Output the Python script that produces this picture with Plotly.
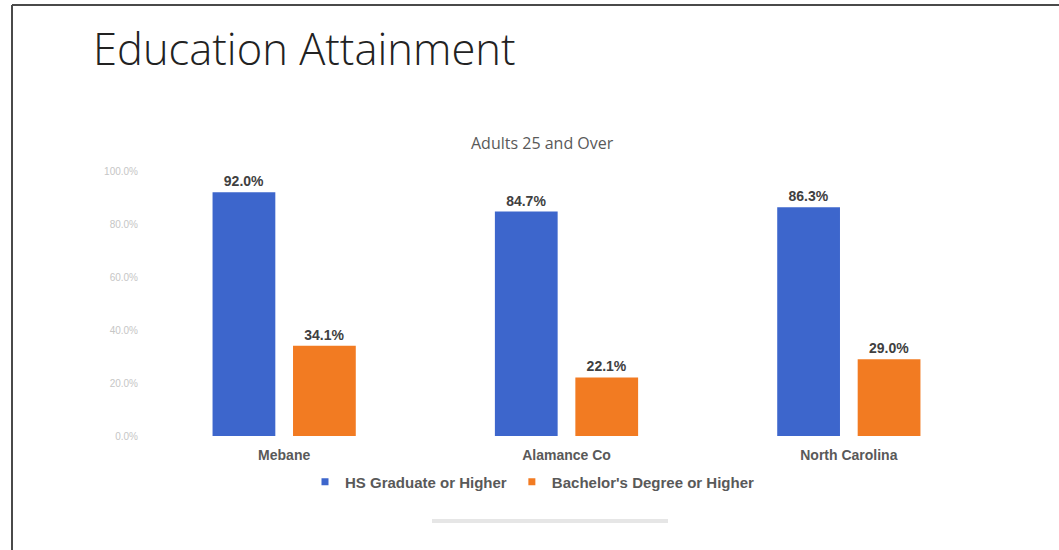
import plotly.graph_objects as go

categories = ["Mebane", "Alamance Co", "North Carolina"]
hs_graduate = [0.920, 0.847, 0.863]
bachelors = [0.341, 0.221, 0.290]
y_ticks = [0.0, 0.2, 0.4, 0.6, 0.8, 1.0]
series_names = ["HS Graduate or Higher", "Bachelor's Degree or Higher"]

W, H = 1059, 550
L, R, T, B = 143, 69, 171, 114  # plot-area margins in pixels
plot_w = W - L - R
plot_h = H - T - B

BLUE = "#3d66cc"
ORANGE = "#f27b22"
BOLD_GRAY = dict(family="Liberation Sans, Arial", color="#595959", weight="bold")
label_font = dict(family="Liberation Sans, Arial", size=14, color="#404040", weight="bold")


def px(pixel_x):
    """Convert a page pixel column to paper x."""
    return (pixel_x - L) / plot_w


def py(pixel_y):
    """Convert a page pixel row to paper y."""
    return (H - B - pixel_y) / plot_h


fig = go.Figure()
for name, values, color in [(series_names[0], hs_graduate, BLUE),
                            (series_names[1], bachelors, ORANGE)]:
    fig.add_trace(go.Bar(
        name=name, x=categories, y=values, showlegend=False,
        marker=dict(color=color, line=dict(width=0)),
        text=[f"{v:.1%}" for v in values], textposition="outside",
        textfont=label_font, cliponaxis=False,
    ))

# small square legend keys
for name, color in [(series_names[0], BLUE), (series_names[1], ORANGE)]:
    fig.add_trace(go.Scatter(
        name=name, x=[None], y=[None], mode="markers",
        marker=dict(symbol="square", size=7, color=color),
    ))

fig.update_layout(
    width=W, height=H,
    margin=dict(l=L, r=R, t=T, b=B, pad=0),
    paper_bgcolor="white", plot_bgcolor="white",
    barmode="group", bargap=0.43, bargroupgap=0.22,
    title=dict(
        text="Education Attainment", x=93 / W, xanchor="left",
        y=1 - 50 / H, yanchor="middle", xref="container", yref="container",
        font=dict(family="Open Sans", size=43.5, color="#222222", weight=300),
    ),
    xaxis=dict(
        showline=False, showgrid=False, ticks="", zeroline=False,
        ticklabelstandoff=9,
        tickfont=dict(size=14, **BOLD_GRAY),
    ),
    yaxis=dict(
        range=[0, 1.0], tickvals=y_ticks, tickformat=".1%",
        showgrid=False, zeroline=False, showline=False, ticks="",
        ticklabelstandoff=4,
        tickfont=dict(family="Liberation Sans, Arial", size=10, color="#c6c6c6"),
    ),
    legend=dict(
        orientation="h", x=px(305), xanchor="left",
        y=py(482), yanchor="middle", traceorder="normal",
        font=dict(size=15, **BOLD_GRAY),
        itemwidth=30, bgcolor="rgba(0,0,0,0)",
    ),
    showlegend=True,
    annotations=[dict(
        text="Adults 25 and Over", xref="paper", yref="paper",
        x=px(542), y=py(143), xanchor="center", yanchor="middle",
        showarrow=False,
        font=dict(family="Open Sans", size=16, color="#595959"),
    )],
    shapes=[
        # frame along the top and left edges
        dict(type="line", xref="paper", yref="paper", x0=px(12), x1=px(W),
             y0=py(5), y1=py(5), line=dict(color="#4a4a4a", width=2)),
        dict(type="line", xref="paper", yref="paper", x0=px(12), x1=px(12),
             y0=py(5), y1=py(H), line=dict(color="#4a4a4a", width=2)),
        # faint caption smear below the legend
        dict(type="line", xref="paper", yref="paper", x0=px(432), x1=px(668),
             y0=py(521), y1=py(521), line=dict(color="#e6e6e6", width=4)),
    ],
)

fig.write_html("out.html")
